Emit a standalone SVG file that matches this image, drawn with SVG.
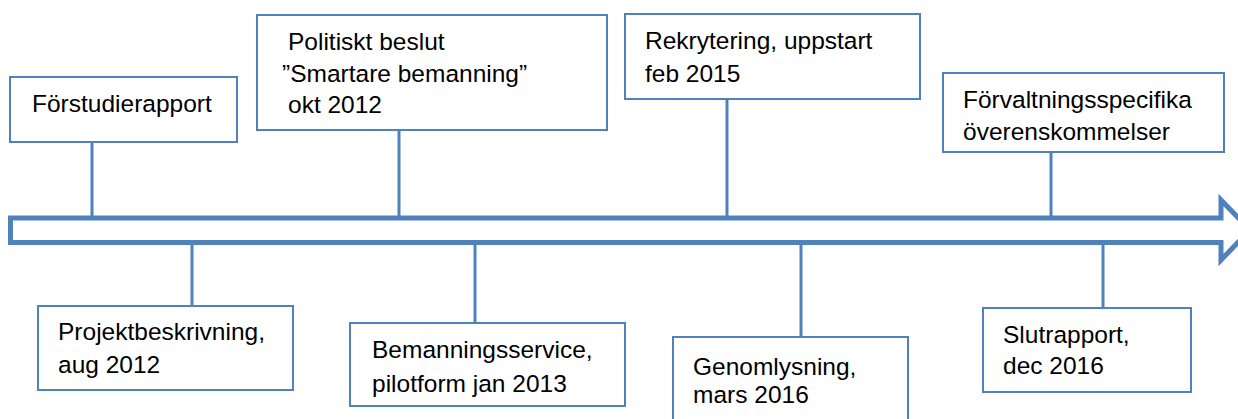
<svg xmlns="http://www.w3.org/2000/svg" width="1238" height="419" viewBox="0 0 1238 419">
<style>
.box{fill:#ffffff;stroke:#4f81bd;stroke-width:2}
.conn{stroke:#4f81bd;stroke-width:3;fill:none}
.arrow{fill:#ffffff;stroke:#4f81bd;stroke-width:5;stroke-linejoin:miter}
text{font-family:"Liberation Sans",Arial,sans-serif;font-size:24.5px;fill:#000000}
</style>
<rect width="1238" height="419" fill="#ffffff"/>
<g id="connectors">
<line class="conn" x1="92" y1="142" x2="92" y2="218"/>
<line class="conn" x1="399" y1="130" x2="399" y2="218"/>
<line class="conn" x1="727" y1="99" x2="727" y2="218"/>
<line class="conn" x1="1051" y1="152" x2="1051" y2="218"/>
<line class="conn" x1="192" y1="242" x2="192" y2="306"/>
<line class="conn" x1="475" y1="242" x2="475" y2="323"/>
<line class="conn" x1="801" y1="242" x2="801" y2="337"/>
<line class="conn" x1="1103" y1="242" x2="1103" y2="308"/>
</g>
<g id="timeline">
<polygon class="arrow" points="10.5,218 1221,218 1221,200 1250,230 1221,260 1221,242.5 10.5,242.5"/>
</g>
<g id="n1">
<rect class="box" x="10" y="77" width="227" height="65"/>
<text x="32" y="112">Förstudierapport</text>
</g>
<g id="n2">
<rect class="box" x="257" y="15" width="350" height="115"/>
<text x="288" y="50">Politiskt beslut</text>
<text x="282" y="82">”Smartare bemanning”</text>
<text x="288" y="113">okt 2012</text>
</g>
<g id="n3">
<rect class="box" x="625" y="14" width="295" height="85"/>
<text x="645" y="49">Rekrytering, uppstart</text>
<text x="645" y="82">feb 2015</text>
</g>
<g id="n4">
<rect class="box" x="943" y="73" width="281" height="79"/>
<text x="963" y="108">Förvaltningsspecifika</text>
<text x="963" y="140">överenskommelser</text>
</g>
<g id="n5">
<rect class="box" x="38" y="306" width="255" height="84"/>
<text x="58" y="340">Projektbeskrivning,</text>
<text x="58" y="373">aug 2012</text>
</g>
<g id="n6">
<rect class="box" x="350" y="323" width="275" height="83"/>
<text x="372" y="358">Bemanningsservice,</text>
<text x="372" y="392">pilotform jan 2013</text>
</g>
<g id="n7">
<rect class="box" x="673" y="337" width="235" height="90"/>
<text x="693" y="375">Genomlysning,</text>
<text x="693" y="403">mars 2016</text>
</g>
<g id="n8">
<rect class="box" x="983" y="308" width="208" height="84"/>
<text x="1003" y="343">Slutrapport,</text>
<text x="1003" y="374">dec 2016</text>
</g>
</svg>
